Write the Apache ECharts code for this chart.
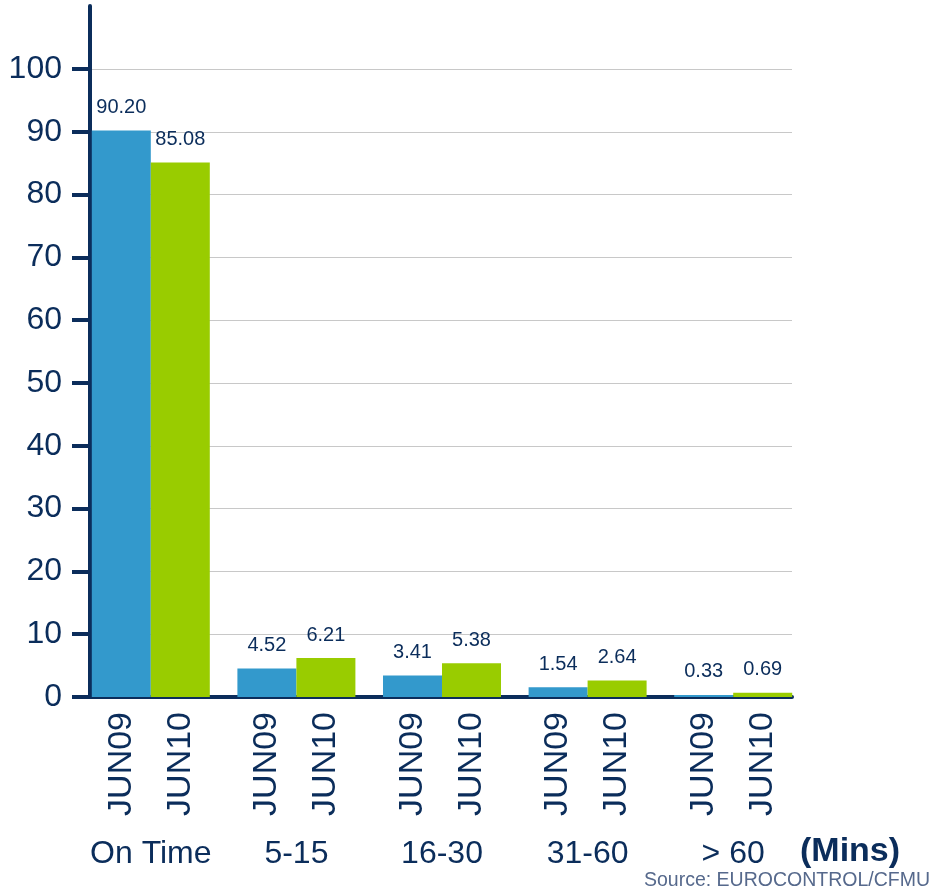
<!DOCTYPE html>
<html>
<head>
<meta charset="utf-8">
<script src="https://cdn.jsdelivr.net/npm/echarts@6/dist/echarts.min.js"></script>
<style>
html,body{margin:0;padding:0;background:#fff;}
#chart{width:933px;height:893px;}
</style>
</head>
<body>
<div id="chart"></div>
<script>
var categories = ['On Time', '5-15', '16-30', '31-60', '> 60'];
var seriesNames = ['JUN09', 'JUN10'];
var jun09 = [90.20, 4.52, 3.41, 1.54, 0.33];
var jun10 = [85.08, 6.21, 5.38, 2.64, 0.69];
var yTicks = [0, 10, 20, 30, 40, 50, 60, 70, 80, 90, 100];

var NAVY = '#0b2d5b';
var FONT = '"Liberation Sans", Arial, sans-serif';
var zeros = categories.map(function () { return 0; });

var chart = echarts.init(document.getElementById('chart'), null, {renderer: 'canvas'});

function valueLabel() {
  return {
    show: true, position: 'top', distance: 13,
    color: NAVY, fontFamily: FONT, fontSize: 20,
    formatter: function (p) { return p.value.toFixed(2); }
  };
}
function nameLabel(name) {
  return {
    show: true, position: 'bottom', distance: 15, rotate: 90,
    align: 'right', verticalAlign: 'middle',
    color: NAVY, fontFamily: FONT, fontSize: 34,
    formatter: name
  };
}

var option = {
  backgroundColor: '#ffffff',
  animation: false,
  grid: [
    {left: 90, right: 141, top: 6, bottom: 196},
    {left: 90, right: 141, top: 69, bottom: 196},
    {left: 78, right: 127, top: 6, bottom: 196}
  ],
  xAxis: [
    {gridIndex: 0, type: 'category', data: categories, boundaryGap: true,
     axisLine: {show: true, lineStyle: {color: NAVY, width: 4}},
     axisTick: {show: false}, axisLabel: {show: false}, splitLine: {show: false}},
    {gridIndex: 1, type: 'category', data: categories, show: false},
    {gridIndex: 2, type: 'category', data: categories,
     axisLine: {show: false}, axisTick: {show: false},
     axisLabel: {show: true, interval: 0, margin: 141, color: NAVY, fontFamily: FONT, fontSize: 32, lineHeight: 32}},
    {gridIndex: 2, type: 'category', data: categories, show: false}
  ],
  yAxis: [
    {gridIndex: 0, type: 'value', min: 0, max: 110, interval: 10,
     axisLine: {show: true, lineStyle: {color: NAVY, width: 4}},
     axisTick: {show: false}, axisLabel: {show: false}, splitLine: {show: false}},
    {gridIndex: 1, type: 'value', min: yTicks[0], max: yTicks[yTicks.length - 1], interval: 10,
     axisLine: {show: false},
     axisTick: {show: true, length: 18, lineStyle: {color: NAVY, width: 4}},
     axisLabel: {show: true, margin: 28, color: NAVY, fontFamily: FONT, fontSize: 32},
     splitLine: {show: true, lineStyle: {color: '#c8c8c8', width: 1}}},
    {gridIndex: 2, type: 'value', min: 0, max: 110, interval: 10, show: false}
  ],
  series: [
    {name: seriesNames[0], type: 'bar', xAxisIndex: 2, yAxisIndex: 2, data: jun09,
     barWidth: 59, barGap: '0%', itemStyle: {color: '#3399cc'}, label: valueLabel(), z: 3},
    {name: seriesNames[1], type: 'bar', xAxisIndex: 2, yAxisIndex: 2, data: jun10,
     barWidth: 59, barGap: '0%', itemStyle: {color: '#99cc00'}, label: valueLabel(), z: 3},
    {name: seriesNames[0] + ' label', type: 'bar', xAxisIndex: 3, yAxisIndex: 2, data: zeros,
     barWidth: 59, barGap: '0%', itemStyle: {color: 'rgba(0,0,0,0)'}, label: nameLabel(seriesNames[0]), silent: true},
    {name: seriesNames[1] + ' label', type: 'bar', xAxisIndex: 3, yAxisIndex: 2, data: zeros,
     barWidth: 59, barGap: '0%', itemStyle: {color: 'rgba(0,0,0,0)'}, label: nameLabel(seriesNames[1]), silent: true}
  ],
  graphic: [
    {type: 'text', left: 800, top: 835,
     style: {text: '(Mins)', fill: NAVY, font: 'bold 34px ' + FONT}},
    {type: 'text', right: 3, top: 871,
     style: {text: 'Source: EUROCONTROL/CFMU', fill: '#56698c', font: '19.5px ' + FONT}}
  ]
};
chart.setOption(option);
</script>
</body>
</html>
